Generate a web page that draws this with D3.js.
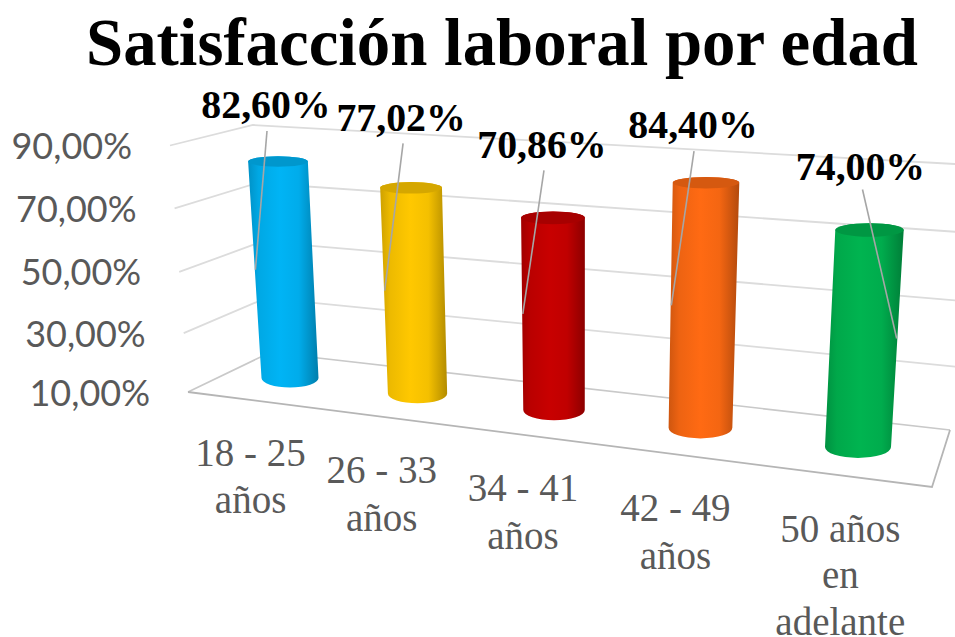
<!DOCTYPE html>
<html><head><meta charset="utf-8">
<script src="https://cdnjs.cloudflare.com/ajax/libs/d3/7.8.5/d3.min.js"></script>
<style>html,body{margin:0;padding:0;background:#fff;overflow:hidden}svg{display:block}</style>
</head><body><svg id="c" width="955" height="637"></svg>
<script>
const title = "Satisfacción laboral por edad";
const categories = [["18 - 25","años"],["26 - 33","años"],["34 - 41","años"],["42 - 49","años"],["50 años","en","adelante"]];
const values = [82.60,77.02,70.86,84.40,74.00];
const colors = ["#00B4F5","#FFC800","#C80000","#FF6A13","#00B450"];
const axisTicks = [10,30,50,70,90];

const fmt = v => v.toFixed(2).replace(".",",")+"%";
const svg=d3.select("#c");
const defs=svg.append("defs");

// perspective helper: solves the projective map from 4 source points to 4 picture points
function homography(src,dst){
  const A=[];
  src.forEach((s,i)=>{const [x,y]=s,[X,Y]=dst[i];
    A.push([x,y,1,0,0,0,-x*X,-y*X,X]);
    A.push([0,0,0,x,y,1,-x*Y,-y*Y,Y]);});
  for(let i=0;i<8;i++){
    let p=i;for(let r=i+1;r<8;r++)if(Math.abs(A[r][i])>Math.abs(A[p][i]))p=r;
    [A[i],A[p]]=[A[p],A[i]];
    for(let r=0;r<8;r++){if(r===i)continue;const f=A[r][i]/A[i][i];
      for(let c=i;c<9;c++)A[r][c]-=f*A[i][c];}
  }
  const h=A.map((r,i)=>r[8]/r[i]);
  return (x,y)=>{const w=h[6]*x+h[7]*y+1;return [(h[0]*x+h[1]*y+h[2])/w,(h[3]*x+h[4]*y+h[5])/w];};
}

// scales: category band and value -> unit box coordinates
const u=d3.scaleBand().domain(d3.range(values.length)).range([0,1]);
const v=d3.scaleLinear().domain([10,90]).range([0,1]);
const vAxis=d3.scaleLinear().domain([10,30,50,70,90]).range([0,0.239,0.487,0.745,1]);
const uc=i=>u(i)+u.bandwidth()/2;
const rScale=d3.scaleLinear().domain([0.1,0.9]).range([28.5,33]);

// box geometry in picture space
const unit=[[0,0],[1,0],[1,1],[0,1]];
const wallEdge=(a,b,t)=>[a[0]+(b[0]-a[0])*t,a[1]+(b[1]-a[1])*t];
const frontEdge=[[188,392],[170,145.5]], cornerEdge=[[270,352.5],[253,125]], rightEdge=[[950,430],[973,165]];
const floor=homography(unit,[[188,392],[932,487],[950,430],[270,352.5]]);
const mid=homography(
  [[uc(0),v(10)],[uc(4),v(10)],[uc(4),v(74)],[uc(0),v(82.6)]],
  [[290,378],[858,447],[869.5,230],[278,161.5]]);

const line=d3.line();
const grid=svg.append("g").attr("fill","none");
// gridlines
axisTicks.forEach(t=>{
  const d=vAxis(t);
  const pts=[wallEdge(...frontEdge,d),wallEdge(...cornerEdge,d),wallEdge(...rightEdge,d)];
  grid.append("path").attr("d",line(pts)).attr("stroke",t===10?"#c9c9c9":"#dcdcdc").attr("stroke-width",t===10?1.6:1.8);
});
// floor front and right edges
grid.append("path").attr("d",line([floor(0,0),floor(1,0),floor(1,1)])).attr("stroke","#b5b5b5").attr("stroke-width",1.8);

// value axis labels
svg.append("g").selectAll("text").data(axisTicks).join("text")
  .attr("x",t=>wallEdge(...frontEdge,vAxis(t))[0]-38).attr("y",t=>wallEdge(...frontEdge,vAxis(t))[1]+13.5)
  .attr("text-anchor","end").attr("font-family","Lato, Carlito, sans-serif")
  .attr("font-size",36).attr("fill","#595959").text(t=>t.toFixed(2).replace(".",",")+"%");

// category labels
const lineStep=[47,48,48,48,46.5];
const cat=svg.append("g").attr("font-family","'Liberation Serif',serif").attr("font-size",39).attr("fill","#595959").attr("text-anchor","middle");
categories.forEach((lines,i)=>{
  const [fx,fy]=floor(uc(i),0);
  lines.forEach((s,j)=>cat.append("text").attr("x",fx-i*0.9).attr("y",fy+66+j*lineStep[i]).text(s));
});

// cylinders
const radius=(i,val)=>rScale(uc(i))+1.5*v(val);
const ryOf=(rx,val)=>rx*(0.33-0.17*v(val));
const bars=svg.append("g");
values.forEach((val,i)=>{
  const id="g"+i,c=d3.color(colors[i]);
  const g=defs.append("linearGradient").attr("id",id);
  [[0,c.darker(0.6)],[0.15,c.darker(0.2)],[0.45,c],[0.72,c.darker(0.12)],[1,c.darker(1.0)]].forEach(([o,k])=>g.append("stop").attr("offset",o).attr("stop-color",k.formatHex()));
  const [tx,ty]=mid(uc(i),v(val)),[bx,by]=mid(uc(i),v(10));
  const rt=radius(i,val),rb=radius(i,10);
  const ryt=ryOf(rt,val),ryb=ryOf(rb,10);
  bars.append("path").attr("fill",`url(#${id})`)
    .attr("d",`M${tx-rt},${ty}L${bx-rb},${by}A${rb},${ryb} 0 0 0 ${bx+rb},${by}L${tx+rt},${ty}A${rt},${ryt} 0 0 0 ${tx-rt},${ty}Z`);
  bars.append("ellipse").attr("cx",tx).attr("cy",ty).attr("rx",rt).attr("ry",ryt).attr("fill",c.darker(0.5).formatHex());
});

// data labels with leader lines: label centre offset from the bar top
const labelAt=[[-12,-57.5],[-10,-70.5],[-11,-73.5],[-13,-58.5],[-9,-64.5]];
const leaderSide=[-1,-1,-1,-1,1];
const leaderStart=[[1,27],[2,26],[2,26],[1,27],[2,24]];
const lab=svg.append("g");
values.forEach((val,i)=>{
  const [tx,ty]=mid(uc(i),v(val)),[bx,by]=mid(uc(i),v(10));
  const lx=tx+labelAt[i][0],ly=ty+labelAt[i][1];
  const rm=(radius(i,val)+radius(i,10))/2;
  const end=[(tx+bx)/2+leaderSide[i]*rm*0.98,(ty+by)/2];
  lab.append("path").attr("d",line([[lx+leaderStart[i][0],ly+leaderStart[i][1]],end])).attr("stroke","#a6a6a6").attr("stroke-width",1.6).attr("fill","none");
  lab.append("text").attr("x",lx).attr("y",ly+14).attr("text-anchor","middle")
    .attr("font-family","'Liberation Serif',serif").attr("font-weight","bold").attr("font-size",39.8).attr("fill","#000").text(fmt(val));
});

// title
svg.append("text").attr("x",502).attr("y",65).attr("text-anchor","middle")
  .attr("font-family","'Liberation Serif',serif").attr("font-weight","bold").attr("font-size",66.8).attr("fill","#000").text(title);
</script></body></html>
